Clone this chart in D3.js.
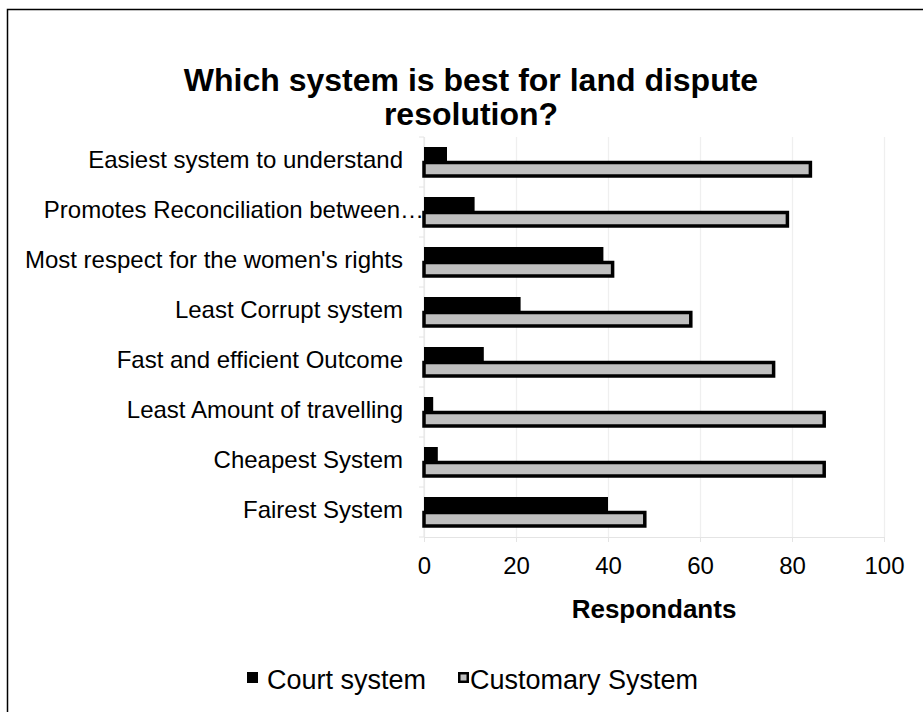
<!DOCTYPE html>
<html>
<head>
    <script src="https://cdnjs.cloudflare.com/ajax/libs/d3/7.8.5/d3.min.js"></script>
    <style>
        body { margin: 0; background: #fff; }
        svg { font-family: "Liberation Sans", Arial, sans-serif; }
        .grid line { stroke: #efefef; stroke-width: 1.3; }
        .grid path { display: none; }
        .axis path, .axis line { stroke: #e4e4e4; }
        .axis text { fill: #000; font-size: 24px; }
        .cat-label { font-size: 24px; fill: #000; }
    </style>
</head>
<body>
    <svg width="923" height="712"></svg>
    <script>
        // Data
        const categories = [
            "Easiest system to understand",
            "Promotes Reconciliation between\u2026",
            "Most respect for the women's rights",
            "Least Corrupt system",
            "Fast and efficient Outcome",
            "Least Amount of travelling",
            "Cheapest System",
            "Fairest System"
        ];
        const seriesNames = ["Court system", "Customary System"];
        const courtValues = [5, 11, 39, 21, 13, 2, 3, 40];
        const customaryValues = [84, 79, 41, 58, 76, 87, 87, 48];
        const xTicks = [0, 20, 40, 60, 80, 100];

        const data = categories.map((c, i) => ({
            category: c,
            court: courtValues[i],
            customary: customaryValues[i]
        }));

        const svg = d3.select("svg");

        // Chart frame (only top/left edges fall inside the window)
        svg.append("rect")
            .attr("x", 7.5)
            .attr("y", 9.5)
            .attr("width", 940)
            .attr("height", 740)
            .attr("fill", "none")
            .attr("stroke", "#000")
            .attr("stroke-width", 1.5);

        // Plot area
        const plot = {left: 424, right: 884, top: 137, bottom: 537};

        const x = d3.scaleLinear()
            .domain([0, 100])
            .range([plot.left, plot.right]);

        const y = d3.scaleBand()
            .domain(categories)
            .range([plot.top, plot.bottom]);

        const ySub = d3.scaleBand()
            .domain(["court", "customary"])
            .range([0, y.bandwidth()])
            .paddingOuter(0.667);

        // Vertical grid lines
        svg.append("g")
            .attr("class", "grid")
            .attr("transform", `translate(0,${plot.bottom})`)
            .call(d3.axisBottom(x)
                .tickValues(xTicks)
                .tickSize(-(plot.bottom - plot.top))
                .tickFormat(""));

        // X axis
        const xAxis = svg.append("g")
            .attr("class", "axis")
            .attr("transform", `translate(0,${plot.bottom})`)
            .call(d3.axisBottom(x)
                .tickValues(xTicks)
                .tickSizeInner(5)
                .tickSizeOuter(0)
                .tickPadding(15));
        xAxis.selectAll("text").attr("dy", "0.71em");

        // Y axis line + ticks at band edges
        const yAxis = svg.append("g").attr("class", "axis");
        yAxis.append("line")
            .attr("x1", plot.left).attr("x2", plot.left)
            .attr("y1", plot.top).attr("y2", plot.bottom);
        yAxis.selectAll(".ytick")
            .data(d3.range(categories.length + 1))
            .enter()
            .append("line")
            .attr("class", "ytick")
            .attr("x1", plot.left - 5).attr("x2", plot.left)
            .attr("y1", i => plot.top + i * y.step())
            .attr("y2", i => plot.top + i * y.step());

        // Category labels (the truncated one runs up to the axis)
        svg.selectAll(".cat-label")
            .data(categories)
            .enter()
            .append("text")
            .attr("class", "cat-label")
            .attr("x", d => d.endsWith("\u2026") ? 424 : 403)
            .attr("y", d => y(d) + y.bandwidth() / 2 - 2)
            .attr("dy", "0.35em")
            .attr("text-anchor", "end")
            .text(d => d);

        // Court bars
        svg.selectAll(".court")
            .data(data)
            .enter()
            .append("rect")
            .attr("class", "court")
            .attr("x", x(0))
            .attr("y", d => y(d.category) + ySub("court"))
            .attr("width", d => x(d.court) - x(0))
            .attr("height", ySub.bandwidth())
            .attr("fill", "#000");

        // Customary bars
        svg.selectAll(".customary")
            .data(data)
            .enter()
            .append("rect")
            .attr("class", "customary")
            .attr("x", x(0))
            .attr("y", d => y(d.category) + ySub("customary") + 0.5)
            .attr("width", d => x(d.customary) - x(0))
            .attr("height", ySub.bandwidth() - 1.5)
            .attr("fill", "#bfbfbf")
            .attr("stroke", "#000")
            .attr("stroke-width", 3.5);

        // Title
        const title = svg.append("text")
            .attr("text-anchor", "middle")
            .attr("font-weight", "bold")
            .attr("font-size", 32);
        title.append("tspan").attr("x", 471).attr("y", 91)
            .text("Which system is best for land dispute");
        title.append("tspan").attr("x", 471).attr("y", 125)
            .text("resolution?");

        // X axis title
        svg.append("text")
            .attr("x", 654)
            .attr("y", 618)
            .attr("text-anchor", "middle")
            .attr("font-weight", "bold")
            .attr("font-size", 26)
            .text("Respondants");

        // Legend
        const legend = svg.append("g").attr("transform", "translate(247,672)");
        const legendItems = [
            {name: seriesNames[0], x: 0, fill: "#000", stroke: "none"},
            {name: seriesNames[1], x: 211, fill: "#bfbfbf", stroke: "#000"}
        ];
        const li = legend.selectAll("g")
            .data(legendItems)
            .enter()
            .append("g")
            .attr("transform", d => `translate(${d.x},0)`);
        li.append("rect")
            .attr("x", d => d.stroke === "none" ? 0 : 1.25)
            .attr("y", d => d.stroke === "none" ? 0 : 1.25)
            .attr("width", d => d.stroke === "none" ? 11 : 8.5)
            .attr("height", d => d.stroke === "none" ? 11 : 8.5)
            .attr("fill", d => d.fill)
            .attr("stroke", d => d.stroke)
            .attr("stroke-width", 2.5);
        li.append("text")
            .attr("x", d => d.stroke === "none" ? 20 : 12)
            .attr("y", 8)
            .attr("dy", "0.35em")
            .attr("font-size", 27)
            .text(d => d.name);
    </script>
</body>
</html>
